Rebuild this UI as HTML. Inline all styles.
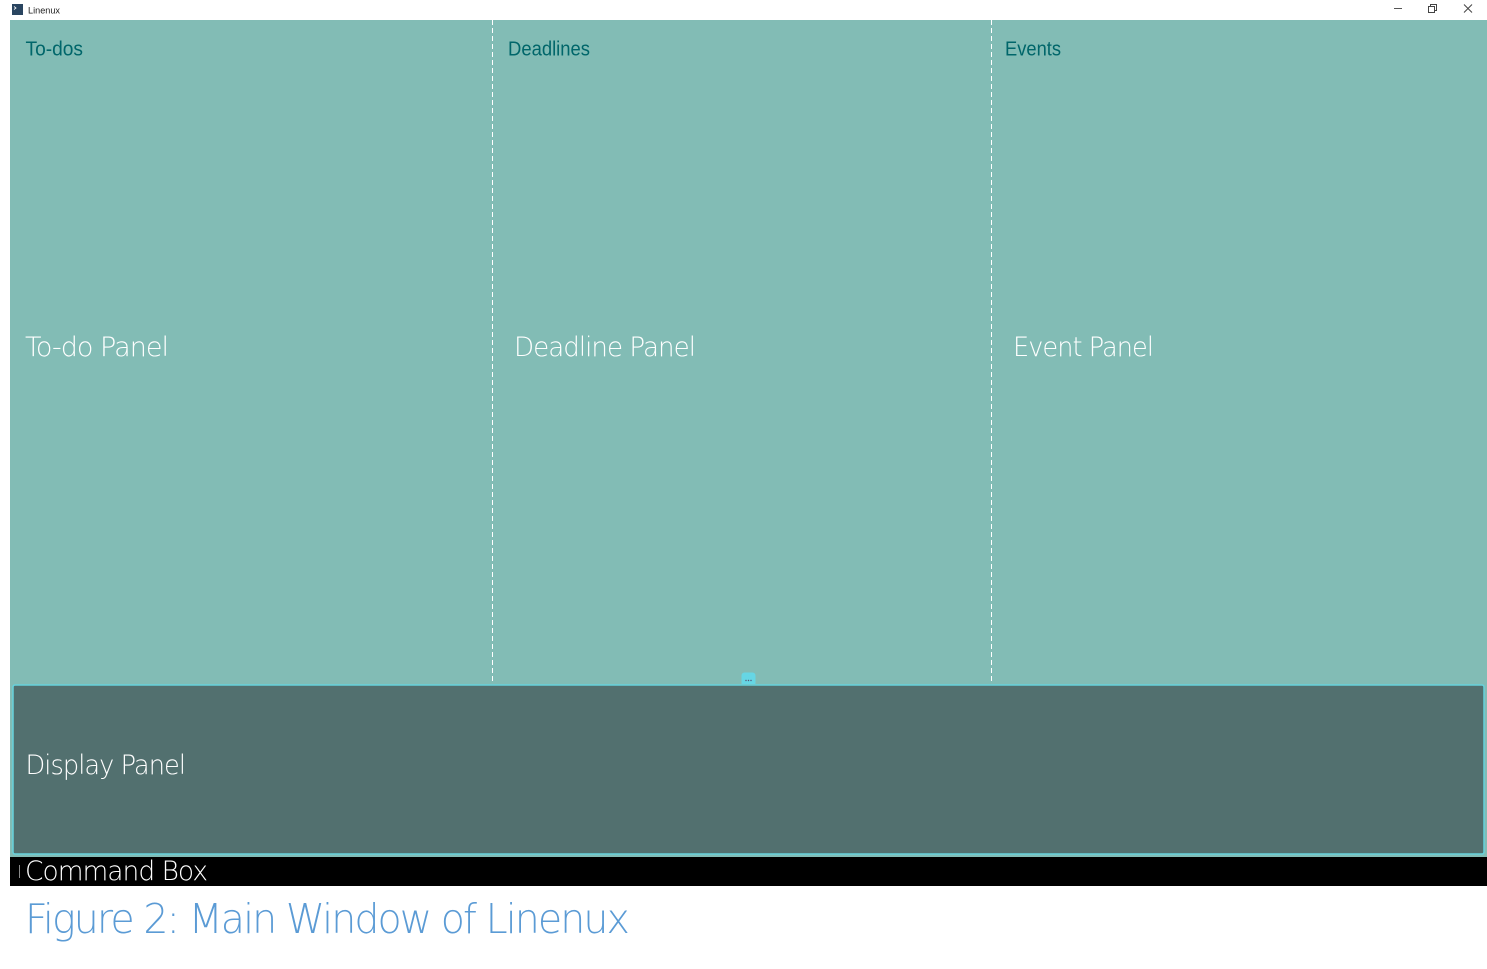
<!DOCTYPE html>
<html lang="en">
<head>
<meta charset="utf-8">
<title>Linenux</title>
<style>
  html, body { margin: 0; padding: 0; background: #fff; width: 1487px; height: 969px; overflow: hidden; }
  svg { display: block; }
  .head { font-family: "Liberation Sans", sans-serif; font-size: 20.500px; fill: #00666a; }
  .light { font-family: "DejaVu Sans ExtraLight", "DejaVu Sans", "Liberation Sans", sans-serif; font-weight: 200; fill: #ffffff; letter-spacing: -1px; }
  .caption { letter-spacing: -2px; }
</style>
</head>
<body>
<svg width="1487" height="969" viewBox="0 0 1487 969" xmlns="http://www.w3.org/2000/svg">
  <rect x="0" y="0" width="1487" height="969" fill="#ffffff"/>

  <g>
    <rect x="12" y="4" width="11" height="11" fill="#2a4560"/>
    <path d="M14 6.500 l2 1.500 l-2 1.500" fill="none" stroke="#ffffff" stroke-width="0.800"/>
    <text x="28" y="13.500" font-family="Liberation Sans, sans-serif" font-size="9.500" fill="#222222" textLength="32" lengthAdjust="spacingAndGlyphs">Linenux</text>
    <rect x="1394" y="8" width="8" height="1" fill="#555555"/>
    <g fill="none" stroke="#444444" stroke-width="1">
      <rect x="1428.500" y="6.500" width="6" height="6"/>
      <path d="M1430.500 6.500 v-2 h6 v6 h-2"/>
    </g>
    <path d="M1464 4.500 L1472 12.500 M1472 4.500 L1464 12.500" stroke="#444444" stroke-width="1" fill="none"/>
  </g>

  <rect x="10" y="20" width="1477" height="665" fill="#82bcb5"/>

  <line x1="492.500" y1="20" x2="492.500" y2="684" stroke="#ffffff" stroke-width="1" stroke-dasharray="5 3"/>
  <line x1="991.500" y1="20" x2="991.500" y2="684" stroke="#ffffff" stroke-width="1" stroke-dasharray="5 3"/>

  <text class="head" x="25.500" y="55.500" textLength="57.500" lengthAdjust="spacingAndGlyphs">To-dos</text>
  <text class="head" x="508" y="55.500" textLength="82" lengthAdjust="spacingAndGlyphs">Deadlines</text>
  <text class="head" x="1005" y="55.500" textLength="56" lengthAdjust="spacingAndGlyphs">Events</text>

  <text class="light" x="25" y="356" font-size="27" textLength="143" lengthAdjust="spacingAndGlyphs">To-do Panel</text>
  <text class="light" x="514" y="356" font-size="27" textLength="181" lengthAdjust="spacingAndGlyphs">Deadline Panel</text>
  <text class="light" x="1013" y="356" font-size="27" textLength="140" lengthAdjust="spacingAndGlyphs">Event Panel</text>

  <g>
    <rect x="741.500" y="672.500" width="14" height="14" rx="3" fill="#66d6e4"/>
    <circle cx="746" cy="680.500" r="0.700" fill="#555577"/>
    <circle cx="748.500" cy="680.500" r="0.700" fill="#555577"/>
    <circle cx="751" cy="680.500" r="0.700" fill="#555577"/>
  </g>

  <rect x="10" y="684" width="1477" height="173" fill="#82bcb5"/>
  <rect x="13" y="685" width="1471" height="169" rx="2" fill="#52706f" stroke="#66d2dc" stroke-width="1.500"/>
  <text class="light" x="25.500" y="774" font-size="27" textLength="159.500" lengthAdjust="spacingAndGlyphs">Display Panel</text>

  <rect x="10" y="857" width="1477" height="29" fill="#000000"/>
  <rect x="19" y="865" width="1" height="13" fill="#8a8a8a"/>
  <text class="light" x="25" y="880" font-size="27" textLength="182" lengthAdjust="spacingAndGlyphs">Command Box</text>

  <text class="light caption" x="25" y="933" font-size="41" style="fill:#5b9bd5" textLength="603" lengthAdjust="spacingAndGlyphs">Figure 2: Main Window of Linenux</text>
</svg>
</body>
</html>
